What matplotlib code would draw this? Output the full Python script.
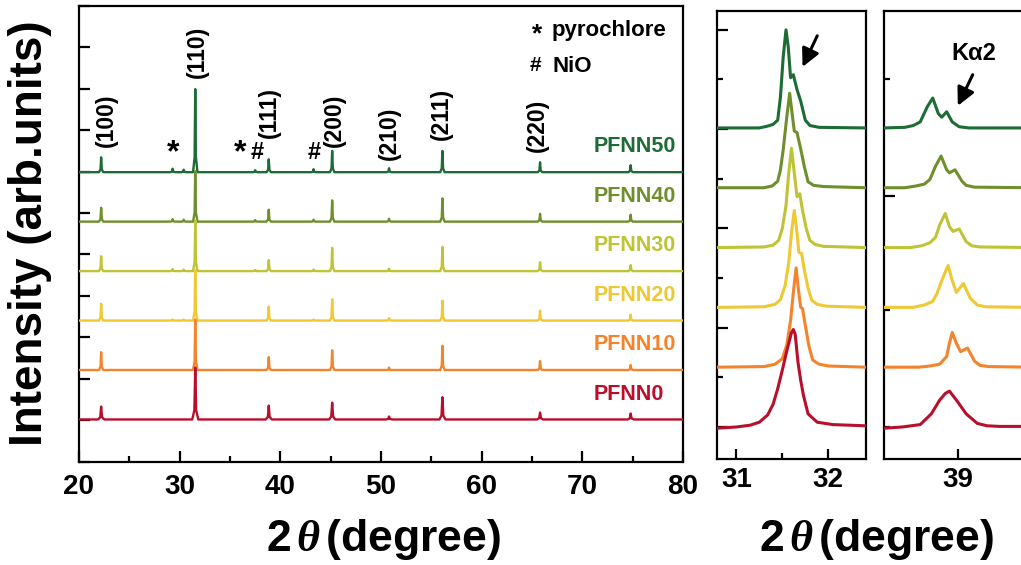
import numpy as np
import matplotlib
matplotlib.use("Agg")
import matplotlib.pyplot as plt

plt.rcParams['font.family'] = ['Liberation Sans', 'DejaVu Sans']
plt.rcParams['font.weight'] = 'bold'
plt.rcParams['mathtext.fontset'] = 'custom'
plt.rcParams['mathtext.bf'] = 'Liberation Sans:bold'
plt.rcParams['mathtext.rm'] = 'Liberation Sans'
plt.rcParams['mathtext.it'] = 'Liberation Serif:italic'

# ---------------- data ----------------
samples = ['PFNN0', 'PFNN10', 'PFNN20', 'PFNN30', 'PFNN40', 'PFNN50']
colors = ['#b8102c', '#f5832b', '#efc833', '#bec435', '#6e8f2b', '#1d6b35']

# main pattern: peak positions (2theta) and heights per sample
peak_pos = [22.2, 29.3, 30.4, 31.55, 37.5, 38.85, 43.3, 45.15, 50.8, 56.1, 65.8, 74.8]
heights = {
    'PFNN0':  [0.26, 0.00, 0.00, 1.05, 0.00, 0.28, 0.00, 0.34, 0.06, 0.45, 0.14, 0.12],
    'PFNN10': [0.36, 0.00, 0.00, 1.02, 0.00, 0.26, 0.00, 0.40, 0.05, 0.49, 0.18, 0.10],
    'PFNN20': [0.34, 0.02, 0.02, 1.02, 0.00, 0.28, 0.02, 0.43, 0.05, 0.40, 0.20, 0.12],
    'PFNN30': [0.30, 0.04, 0.03, 1.02, 0.02, 0.22, 0.03, 0.47, 0.05, 0.49, 0.18, 0.12],
    'PFNN40': [0.28, 0.05, 0.04, 1.02, 0.03, 0.24, 0.04, 0.43, 0.06, 0.47, 0.16, 0.14],
    'PFNN50': [0.30, 0.07, 0.05, 1.68, 0.04, 0.26, 0.06, 0.43, 0.08, 0.43, 0.20, 0.14],
}
halfwidth = {'PFNN0': 0.3, 'PFNN10': 0.22, 'PFNN20': 0.22, 'PFNN30': 0.22,
             'PFNN40': 0.22, 'PFNN50': 0.22}

hkl_labels = ['(100)', '(110)', '(111)', '(200)', '(210)', '(211)', '(220)']
hkl_x = [22.68, 31.8, 38.95, 45.4, 50.85, 56.0, 65.54]

# zoom around (110), 2theta vs intensity
p31_x = {
    'PFNN50': [30.79, 31.25, 31.34, 31.40, 31.45, 31.48, 31.51, 31.54, 31.565, 31.59, 31.62, 31.66, 31.70, 31.75, 31.80, 31.90, 32.41],
    'PFNN40': [30.79, 31.30, 31.39, 31.45, 31.48, 31.51, 31.55, 31.58, 31.61, 31.63, 31.66, 31.70, 31.74, 31.78, 31.84, 31.95, 32.41],
    'PFNN30': [30.79, 31.30, 31.40, 31.46, 31.50, 31.54, 31.57, 31.60, 31.63, 31.66, 31.69, 31.72, 31.76, 31.80, 31.86, 31.95, 32.41],
    'PFNN20': [30.79, 31.30, 31.42, 31.48, 31.53, 31.57, 31.60, 31.63, 31.66, 31.68, 31.71, 31.74, 31.78, 31.82, 31.88, 31.98, 32.41],
    'PFNN10': [30.79, 31.30, 31.42, 31.50, 31.55, 31.59, 31.62, 31.65, 31.675, 31.70, 31.72, 31.75, 31.79, 31.83, 31.90, 32.00, 32.41],
    'PFNN0':  [30.79, 31.00, 31.15, 31.25, 31.34, 31.40, 31.45, 31.50, 31.55, 31.60, 31.62, 31.64, 31.67, 31.70, 31.73, 31.78, 31.88, 32.05, 32.41],
}
p31_y = {
    'PFNN50': [0.00, 0.00, 0.03, 0.06, 0.13, 0.52, 1.19, 1.64, 1.35, 0.84, 0.89, 0.64, 0.45, 0.13, 0.04, 0.01, 0.00],
    'PFNN40': [0.00, 0.00, 0.03, 0.11, 0.30, 0.64, 1.20, 1.58, 1.20, 0.95, 0.92, 0.65, 0.35, 0.10, 0.04, 0.02, 0.00],
    'PFNN30': [0.00, 0.01, 0.04, 0.12, 0.32, 0.70, 1.25, 1.66, 1.25, 0.85, 0.90, 0.62, 0.32, 0.12, 0.05, 0.02, 0.00],
    'PFNN20': [0.00, 0.01, 0.05, 0.13, 0.36, 0.75, 1.25, 1.62, 1.25, 0.92, 0.90, 0.62, 0.32, 0.12, 0.05, 0.02, 0.00],
    'PFNN10': [0.00, 0.01, 0.05, 0.14, 0.38, 0.78, 1.25, 1.66, 1.30, 1.00, 0.98, 0.70, 0.35, 0.12, 0.05, 0.02, 0.00],
    'PFNN0':  [-0.02, 0.00, 0.03, 0.08, 0.20, 0.38, 0.64, 0.95, 1.28, 1.58, 1.63, 1.55, 1.09, 0.78, 0.53, 0.22, 0.08, 0.04, 0.02],
}

# zoom around (111)
p39_x = {
    'PFNN50': [38.47, 38.62, 38.68, 38.73, 38.78, 38.82, 38.86, 38.885, 38.92, 38.96, 39.01, 39.08, 39.54],
    'PFNN40': [38.47, 38.62, 38.70, 38.76, 38.80, 38.84, 38.88, 38.92, 38.94, 38.98, 39.03, 39.06, 39.12, 39.54],
    'PFNN30': [38.47, 38.66, 38.74, 38.80, 38.84, 38.87, 38.91, 38.94, 38.965, 39.01, 39.06, 39.10, 39.16, 39.54],
    'PFNN20': [38.47, 38.68, 38.76, 38.82, 38.85, 38.89, 38.93, 38.96, 38.99, 39.04, 39.09, 39.14, 39.20, 39.54],
    'PFNN10': [38.47, 38.72, 38.80, 38.87, 38.92, 38.94, 38.96, 38.99, 39.02, 39.07, 39.12, 39.16, 39.22, 39.54],
    'PFNN0':  [38.47, 38.60, 38.73, 38.81, 38.87, 38.91, 38.94, 38.99, 39.06, 39.14, 39.21, 39.30, 39.54],
}
p39_y = {
    'PFNN50': [0.00, 0.01, 0.04, 0.10, 0.35, 0.50, 0.24, 0.18, 0.27, 0.10, 0.02, 0.00, 0.00],
    'PFNN40': [0.00, 0.00, 0.03, 0.06, 0.14, 0.36, 0.53, 0.30, 0.25, 0.30, 0.11, 0.04, 0.01, 0.00],
    'PFNN30': [0.00, 0.00, 0.03, 0.08, 0.17, 0.38, 0.57, 0.35, 0.27, 0.31, 0.10, 0.03, 0.01, 0.00],
    'PFNN20': [0.00, 0.00, 0.04, 0.10, 0.23, 0.48, 0.70, 0.45, 0.25, 0.40, 0.15, 0.04, 0.01, 0.00],
    'PFNN10': [0.00, 0.00, 0.02, 0.05, 0.18, 0.40, 0.58, 0.40, 0.26, 0.32, 0.10, 0.03, 0.01, 0.00],
    'PFNN0':  [-0.02, 0.00, 0.04, 0.22, 0.45, 0.56, 0.60, 0.45, 0.22, 0.06, 0.02, 0.01, 0.01],
}

# ---------------- figure ----------------
W, H = 1021, 565
fig = plt.figure(figsize=(W / 100, H / 100), dpi=100)

def box(l, r, t, b):
    return [l / W, 1 - b / H, (r - l) / W, (b - t) / H]

ax = fig.add_axes(box(79, 683, 6, 461.5))
ax2 = fig.add_axes(box(717, 866, 10.7, 459))
ax3 = fig.add_axes(box(884, 1033, 10.7, 459))

for a in (ax, ax2, ax3):
    for s in a.spines.values():
        s.set_linewidth(1.6)
    a.tick_params(direction='in', width=1.6, labelsize=20, top=False, right=False)

# main panel
for i in reversed(range(len(samples))):
    name = samples[i]
    xs, ys = [20.0], [0.0]
    w = halfwidth[name]
    for p, h in zip(peak_pos, heights[name]):
        if h <= 0:
            continue
        xs += [p - w, p - 0.3 * w, p, p + 0.3 * w, p + w]
        ys += [0.0, 0.18 * h, h, 0.18 * h, 0.0]
    xs.append(80.0); ys.append(0.0)
    ax.plot(xs, np.array(ys) + i, color=colors[i], lw=1.7, zorder=10 - i)
    ax.text(71.1, i + 0.40, name, color=colors[i], fontsize=15.5,
            fontweight='bold', ha='left', va='baseline')

ylo, yhi = -0.85, 8.36
ax.set_xlim(20, 80)
ax.set_ylim(ylo, yhi)
ax.set_xticks([20, 30, 40, 50, 60, 70, 80])
ax.set_xticks([25, 35, 45, 55, 65, 75], minor=True)
ax.set_yticks(np.linspace(ylo, yhi, 12))
ax.set_yticklabels([])
ax.tick_params(axis='x', which='major', length=8, pad=9)
ax.tick_params(axis='x', which='minor', length=4, width=1.6, direction='in')
ax.tick_params(axis='y', which='major', length=8)

hkl_bottom = [5.51, 6.90, 5.69, 5.51, 5.24, 5.65, 5.40]
for lab, x, yb in zip(hkl_labels, hkl_x, hkl_bottom):
    ax.text(x, yb, lab, rotation=90, ha='center', va='bottom', fontsize=16.5,
            fontweight='bold', zorder=20)

for x in (29.33, 35.97):
    ax.text(x, 5.45, '*', fontsize=23, fontweight='bold', ha='center',
            va='center_baseline', zorder=20)
for x in (37.66, 43.41):
    ax.text(x, 5.45, '#', fontsize=17, fontweight='bold', ha='center',
            va='center_baseline', zorder=20)

ax.text(65.54, 7.83, '*', fontsize=19, fontweight='bold', ha='center', va='center_baseline')
ax.text(66.93, 7.91, 'pyrochlore', fontsize=16, fontweight='bold', ha='left', va='center_baseline')
ax.text(65.34, 7.19, '#', fontsize=15, fontweight='bold', ha='center', va='center_baseline')
ax.text(67.02, 7.19, 'NiO', fontsize=16, fontweight='bold', ha='left', va='center_baseline')

# zoom panels
for i in reversed(range(len(samples))):
    name = samples[i]
    ax2.plot(p31_x[name], np.array(p31_y[name]) + i, color=colors[i], lw=2.2, zorder=10 - i)
    ax3.plot(p39_x[name], np.array(p39_y[name]) + i, color=colors[i], lw=2.2, zorder=10 - i)

for a in (ax2, ax3):
    a.set_ylim(-0.535, 6.96)
    a.set_yticklabels([])
    a.tick_params(axis='x', which='major', length=7, pad=6)

ax2.set_xlim(30.79, 32.41)
ax2.set_xticks([31, 32])
ax2.set_xticks([31.5], minor=True)
ax2.tick_params(axis='x', which='minor', length=4, width=1.6, direction='in')
ax2.set_yticks([0.0, 1.66, 3.32, 4.98, 6.64])
ax2.set_yticks([0.83, 2.49, 4.15, 5.81], minor=True)
ax2.tick_params(axis='y', which='major', length=8)
ax2.tick_params(axis='y', which='minor', length=4, width=1.6, direction='in')

ax3.set_xlim(38.47, 39.54)
ax3.set_xticks([39])
ax3.set_yticks([3.86])
ax3.set_yticks([0.0, 1.95, 5.82], minor=True)
ax3.tick_params(axis='y', which='major', length=8)
ax3.tick_params(axis='y', which='minor', length=4, width=1.6, direction='in')

for a in (ax, ax2, ax3):
    for lab in a.get_xticklabels():
        lab.set_fontweight('bold')

arrow = dict(arrowstyle='-|>,head_length=0.6,head_width=0.3', lw=2.2, color='k',
             mutation_scale=18, shrinkA=0, shrinkB=0)
ax2.annotate('', xy=(31.72, 6.02), xytext=(31.88, 6.54), arrowprops=arrow, zorder=20)
ax3.annotate('', xy=(39.0, 5.37), xytext=(39.107, 5.89), arrowprops=arrow, zorder=20)
ax3.text(39.114, 6.25, 'Kα2', fontsize=17, fontweight='bold', ha='center', va='center')

# labels
fig.text(30 / W, 1 - 233 / H, 'Intensity (arb.units)', rotation=90, fontsize=33,
         fontweight='bold', ha='center', va='center')
xl = r'$\mathbf{2}\,\theta\,\mathbf{(degree)}$'
fig.text(383 / W, 1 - 540 / H, xl, fontsize=32, ha='center', va='center')
fig.text(876 / W, 1 - 540 / H, xl, fontsize=32, ha='center', va='center')

fig.savefig('out.png', dpi=100)
